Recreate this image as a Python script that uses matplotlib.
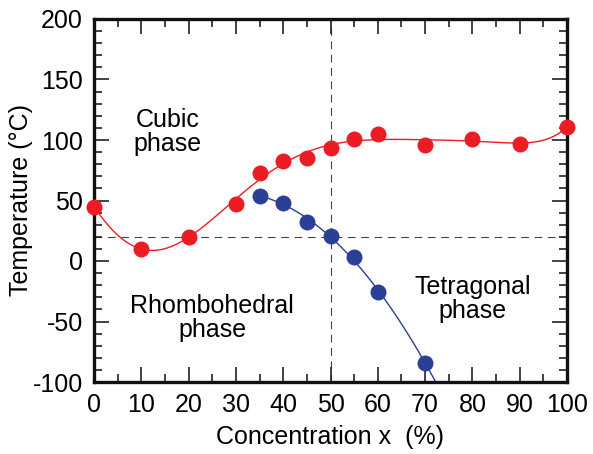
import matplotlib
matplotlib.use('Agg')
import matplotlib.pyplot as plt
import numpy as np

plt.rcParams['font.family'] = ['Liberation Sans', 'DejaVu Sans']
plt.rcParams['axes.unicode_minus'] = False

# cubic -> lower phase transition
red_x = [0, 10, 20, 30, 35, 40, 45, 50, 55, 60, 70, 80, 90, 100]
red_t = [45, 10, 20, 47, 73, 83, 85, 93, 101, 105, 96, 101, 97, 111]

# rhombohedral -> tetragonal transition
blue_x = [35, 40, 45, 50, 55, 60, 70]
blue_t = [54, 48, 32, 21, 3, -26, -84]

red_c = '#ec1c24'
blue_c = '#2b3f97'
fs = 18

fig = plt.figure(figsize=(5.93, 4.54), dpi=100)
ax = fig.add_axes([94 / 593, (454 - 382) / 454, (567 - 94) / 593, (382 - 19) / 454])

# smooth guide curves
xr = np.linspace(0, 100, 300)
pr = np.polyfit(red_x, red_t, 7)
ax.plot(xr, np.polyval(pr, xr), color=red_c, lw=1.0, zorder=2)

xb = np.linspace(35, 73, 200)
pb = np.polyfit(blue_x, blue_t, 2)
ax.plot(xb, np.polyval(pb, xb), color=blue_c, lw=1.0, zorder=2)

ax.plot(red_x, red_t, 'o', color=red_c, ms=11.5, mec='none', zorder=3, clip_on=False)
ax.plot(blue_x, blue_t, 'o', color=blue_c, ms=11.5, mec='none', zorder=3, clip_on=False)

ax.axhline(20, color='#444444', lw=0.8, dashes=(7, 5), zorder=1)
ax.axvline(50, color='#444444', lw=0.8, dashes=(7, 5), zorder=1)

ax.text(15.5, 107, 'Cubic\nphase', ha='center', va='center', fontsize=fs, linespacing=1.0)
ax.text(25, -47, 'Rhombohedral\nphase', ha='center', va='center', fontsize=fs, linespacing=1.0)
ax.text(80, -31, 'Tetragonal\nphase', ha='center', va='center', fontsize=fs, linespacing=1.0)

ax.set_xlim(0, 100)
ax.set_ylim(-100, 200)
ax.set_xticks(np.arange(0, 101, 10))
ax.set_xticks(np.arange(0, 101, 5), minor=True)
ax.set_yticks(np.arange(-100, 201, 50))
ax.set_yticks(np.arange(-100, 201, 10), minor=True)
ax.tick_params(which='both', direction='in', top=True, right=True, width=1.2,
               labelsize=fs, color='#222222')
ax.tick_params(which='major', length=11)
ax.tick_params(axis='x', which='major', pad=8)
ax.tick_params(axis='y', which='major', pad=8)
ax.tick_params(which='minor', length=6)
for s in ax.spines.values():
    s.set_linewidth(2.4)
    s.set_color('#111111')

ax.set_xlabel('Concentration x  (%)', fontsize=fs, labelpad=6)
ax.set_ylabel('Temperature (°C)', fontsize=fs, labelpad=0)

fig.savefig('out.png', dpi=100)
